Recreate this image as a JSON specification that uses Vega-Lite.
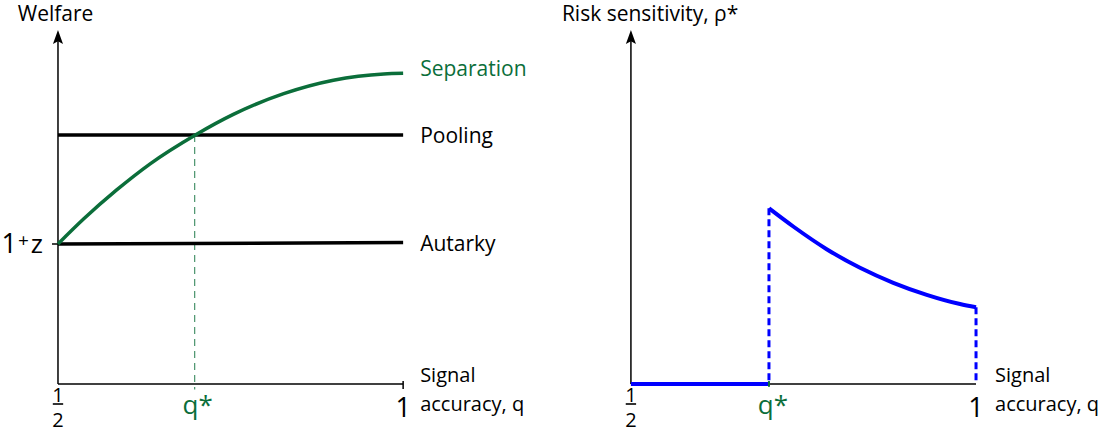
{
  "$schema": "https://vega.github.io/schema/vega-lite/v6.json",
  "padding": 0,
  "spacing": 0,
  "background": "white",
  "config": {"view": {"stroke": null}, "text": {"font": "Open Sans"}},
  "datasets": {
    "welfare": [
      {"series": "Separation", "q": 0.5, "welfare": 1.0},
      {"series": "Separation", "q": 0.537, "welfare": 1.178},
      {"series": "Separation", "q": 0.585, "welfare": 1.386},
      {"series": "Separation", "q": 0.633, "welfare": 1.571},
      {"series": "Separation", "q": 0.699, "welfare": 1.779},
      {"series": "Separation", "q": 0.754, "welfare": 1.926},
      {"series": "Separation", "q": 0.827, "welfare": 2.074},
      {"series": "Separation", "q": 0.899, "welfare": 2.17},
      {"series": "Separation", "q": 0.972, "welfare": 2.215},
      {"series": "Separation", "q": 1.0, "welfare": 2.219},
      {"series": "Pooling", "q": 0.5, "welfare": 1.779},
      {"series": "Pooling", "q": 1.0, "welfare": 1.779},
      {"series": "Autarky", "q": 0.5, "welfare": 1.0},
      {"series": "Autarky", "q": 1.0, "welfare": 1.01}
    ],
    "risk": [
      {"segment": "low", "q": 0.5, "rho": 0.0},
      {"segment": "low", "q": 0.7, "rho": 0.0},
      {"segment": "high", "q": 0.7, "rho": 1.255},
      {"segment": "high", "q": 0.7352, "rho": 1.125},
      {"segment": "high", "q": 0.7836, "rho": 0.963},
      {"segment": "high", "q": 0.8319, "rho": 0.83},
      {"segment": "high", "q": 0.8801, "rho": 0.723},
      {"segment": "high", "q": 0.9286, "rho": 0.637},
      {"segment": "high", "q": 0.9768, "rho": 0.571},
      {"segment": "high", "q": 1.0, "rho": 0.548}
    ],
    "jumps": [
      {"q": 0.7, "top": 1.255},
      {"q": 1.0, "top": 0.548}
    ],
    "qstar": [
      {"panel": "Welfare", "q": 0.698, "top": 1.779},
      {"panel": "Risk", "q": 0.7, "top": 0}
    ]
  },
  "hconcat": [
    {
      "width": 555,
      "height": 432,
      "layer": [
        {
          "data": {"name": "qstar"},
          "transform": [{"filter": "datum.panel === 'Welfare'"}],
          "mark": {"type": "rule", "color": "#0b6e3a", "opacity": 0.75, "strokeWidth": 1.2, "strokeDash": [7, 5]},
          "encoding": {
            "x": {"field": "q", "type": "quantitative", "scale": {"domain": [0.416, 1.22], "nice": false, "zero": false}, "axis": null},
            "y": {"field": "top", "type": "quantitative", "scale": {"domain": [-0.343, 2.743], "nice": false, "zero": false}, "axis": null},
            "y2": {"datum": -0.04}
          }
        },
        {
          "data": {"values": [{}]},
          "mark": {"type": "rule", "color": "black", "strokeWidth": 1.5},
          "encoding": {"x": {"datum": 0.5, "type": "quantitative"}, "y": {"datum": 0, "type": "quantitative"}, "y2": {"datum": 2.45}}
        },
        {
          "data": {"values": [{}]},
          "mark": {"type": "rule", "color": "black", "strokeWidth": 1.5},
          "encoding": {"x": {"datum": 0.5, "type": "quantitative"}, "x2": {"datum": 1.0}, "y": {"datum": 0, "type": "quantitative"}}
        },
        {
          "data": {"values": [{}]},
          "mark": {"type": "rule", "color": "black", "strokeWidth": 1.5},
          "encoding": {"x": {"datum": 1.0, "type": "quantitative"}, "y": {"datum": -0.036, "type": "quantitative"}, "y2": {"datum": 0.021}}
        },
        {
          "data": {"values": [{}]},
          "mark": {"type": "rule", "color": "black", "strokeWidth": 1.5},
          "encoding": {"x": {"datum": 0.4913, "type": "quantitative"}, "x2": {"datum": 0.5}, "y": {"datum": 1.0, "type": "quantitative"}}
        },
        {
          "data": {"values": [{}]},
          "mark": {"type": "point", "shape": "M0,-1L0.72,1L0,0.6L-0.72,1Z", "filled": true, "color": "black", "opacity": 1, "size": 196},
          "encoding": {"x": {"datum": 0.5, "type": "quantitative"}, "y": {"datum": 2.479, "type": "quantitative"}}
        },
        {
          "data": {"name": "welfare"},
          "transform": [{"filter": "datum.series !== 'Separation'"}],
          "mark": {"type": "line", "color": "black", "strokeWidth": 3.5},
          "encoding": {"x": {"field": "q", "type": "quantitative"}, "y": {"field": "welfare", "type": "quantitative"}, "detail": {"field": "series", "type": "nominal"}}
        },
        {
          "data": {"name": "welfare"},
          "transform": [{"filter": "datum.series === 'Separation'"}],
          "mark": {"type": "line", "color": "#0b6e3a", "strokeWidth": 3.5, "interpolate": "monotone"},
          "encoding": {"x": {"field": "q", "type": "quantitative"}, "y": {"field": "welfare", "type": "quantitative"}}
        },
        {
          "data": {"name": "welfare"},
          "transform": [{"filter": "datum.q === 1 && datum.series === 'Separation'"}],
          "mark": {"type": "text", "align": "left", "baseline": "middle", "dx": 17, "dy": -3, "fontSize": 21, "color": "#0b6e3a"},
          "encoding": {
            "x": {"field": "q", "type": "quantitative"},
            "y": {"field": "welfare", "type": "quantitative"},
            "text": {"field": "series", "type": "nominal"}
          }
        },
        {
          "data": {"name": "welfare"},
          "transform": [{"filter": "datum.q === 1 && datum.series !== 'Separation'"}],
          "mark": {"type": "text", "align": "left", "baseline": "middle", "dx": 17, "dy": 2, "fontSize": 21, "color": "black"},
          "encoding": {
            "x": {"field": "q", "type": "quantitative"},
            "y": {"field": "welfare", "type": "quantitative"},
            "text": {"field": "series", "type": "nominal"}
          }
        },
        {
          "data": {"values": [{}]},
          "mark": {"type": "text", "text": "Welfare", "align": "center", "baseline": "alphabetic", "fontSize": 21, "color": "black"},
          "encoding": {"x": {"datum": 0.4965, "type": "quantitative"}, "y": {"datum": 2.59, "type": "quantitative"}}
        },
        {
          "data": {"values": [{}]},
          "mark": {"type": "text", "text": "z", "align": "right", "baseline": "alphabetic", "fontSize": 26, "dx": -15, "dy": 9, "color": "black"},
          "encoding": {"x": {"datum": 0.5, "type": "quantitative"}, "y": {"datum": 1.0, "type": "quantitative"}}
        },
        {
          "data": {"values": [{}]},
          "mark": {"type": "text", "text": "+", "align": "right", "baseline": "alphabetic", "fontSize": 19, "dx": -29, "dy": 3, "color": "black"},
          "encoding": {"x": {"datum": 0.5, "type": "quantitative"}, "y": {"datum": 1.0, "type": "quantitative"}}
        },
        {
          "data": {"values": [{}]},
          "mark": {"type": "text", "text": "1", "align": "right", "baseline": "alphabetic", "fontSize": 27, "dx": -41, "dy": 9, "color": "black"},
          "encoding": {"x": {"datum": 0.5, "type": "quantitative"}, "y": {"datum": 1.0, "type": "quantitative"}}
        },
        {
          "data": {"values": [{}]},
          "mark": {"type": "text", "text": ["1", "2"], "align": "center", "baseline": "alphabetic", "fontSize": 20, "lineHeight": 25, "color": "black"},
          "encoding": {"x": {"datum": 0.5, "type": "quantitative"}, "y": {"datum": -0.1286, "type": "quantitative"}}
        },
        {
          "data": {"values": [{}]},
          "mark": {"type": "rule", "color": "black", "strokeWidth": 1.6},
          "encoding": {"x": {"datum": 0.4925, "type": "quantitative"}, "x2": {"datum": 0.5075}, "y": {"datum": -0.143, "type": "quantitative"}}
        },
        {
          "data": {"name": "qstar"},
          "transform": [{"filter": "datum.panel === 'Welfare'"}],
          "mark": {"type": "text", "text": "q*", "align": "center", "baseline": "alphabetic", "fontSize": 26, "dx": 3, "color": "#0b6e3a"},
          "encoding": {"x": {"field": "q", "type": "quantitative"}, "y": {"datum": -0.214, "type": "quantitative"}}
        },
        {
          "data": {"values": [{}]},
          "mark": {"type": "text", "text": "1", "align": "center", "baseline": "alphabetic", "fontSize": 27, "color": "black"},
          "encoding": {"x": {"datum": 1.0, "type": "quantitative"}, "y": {"datum": -0.236, "type": "quantitative"}}
        },
        {
          "data": {"values": [{}]},
          "mark": {"type": "text", "text": ["Signal", "accuracy, q"], "align": "left", "baseline": "alphabetic", "fontSize": 20, "lineHeight": 29, "dx": 17, "color": "black"},
          "encoding": {"x": {"datum": 1.0, "type": "quantitative"}, "y": {"datum": 0.014, "type": "quantitative"}}
        }
      ]
    },
    {
      "width": 557,
      "height": 432,
      "layer": [
        {
          "data": {"values": [{}]},
          "mark": {"type": "rule", "color": "black", "strokeWidth": 1.5},
          "encoding": {
            "x": {"datum": 0.5, "type": "quantitative", "scale": {"domain": [0.39, 1.197], "nice": false, "zero": false}, "axis": null},
            "y": {"datum": 0, "type": "quantitative", "scale": {"domain": [-0.343, 2.743], "nice": false, "zero": false}, "axis": null},
            "y2": {"datum": 2.45}
          }
        },
        {
          "data": {"values": [{}]},
          "mark": {"type": "rule", "color": "black", "strokeWidth": 1.5},
          "encoding": {"x": {"datum": 0.5, "type": "quantitative"}, "x2": {"datum": 1.0}, "y": {"datum": 0, "type": "quantitative"}}
        },
        {
          "data": {"values": [{}]},
          "mark": {"type": "point", "shape": "M0,-1L0.72,1L0,0.6L-0.72,1Z", "filled": true, "color": "black", "opacity": 1, "size": 196},
          "encoding": {"x": {"datum": 0.5, "type": "quantitative"}, "y": {"datum": 2.479, "type": "quantitative"}}
        },
        {
          "data": {"name": "jumps"},
          "mark": {"type": "rule", "color": "#0000ff", "strokeWidth": 3, "strokeDash": [7, 4]},
          "encoding": {"x": {"field": "q", "type": "quantitative"}, "y": {"field": "top", "type": "quantitative"}, "y2": {"datum": 0}}
        },
        {
          "data": {"name": "risk"},
          "mark": {"type": "line", "color": "#0000ff", "strokeWidth": 4, "interpolate": "monotone"},
          "encoding": {"x": {"field": "q", "type": "quantitative"}, "y": {"field": "rho", "type": "quantitative"}, "detail": {"field": "segment", "type": "nominal"}}
        },
        {
          "data": {"name": "qstar"},
          "transform": [{"filter": "datum.panel === 'Risk'"}],
          "mark": {"type": "rule", "color": "#0b6e3a", "strokeWidth": 2},
          "encoding": {"x": {"field": "q", "type": "quantitative"}, "y": {"datum": -0.02, "type": "quantitative"}, "y2": {"datum": 0.021}}
        },
        {
          "data": {"values": [{}]},
          "mark": {"type": "text", "text": "Risk sensitivity, ρ*", "align": "left", "baseline": "alphabetic", "fontSize": 21, "color": "black"},
          "encoding": {"x": {"datum": 0.4, "type": "quantitative"}, "y": {"datum": 2.59, "type": "quantitative"}}
        },
        {
          "data": {"values": [{}]},
          "mark": {"type": "text", "text": ["1", "2"], "align": "center", "baseline": "alphabetic", "fontSize": 20, "lineHeight": 25, "color": "black"},
          "encoding": {"x": {"datum": 0.5, "type": "quantitative"}, "y": {"datum": -0.1286, "type": "quantitative"}}
        },
        {
          "data": {"values": [{}]},
          "mark": {"type": "rule", "color": "black", "strokeWidth": 1.6},
          "encoding": {"x": {"datum": 0.4925, "type": "quantitative"}, "x2": {"datum": 0.5075}, "y": {"datum": -0.143, "type": "quantitative"}}
        },
        {
          "data": {"name": "qstar"},
          "transform": [{"filter": "datum.panel === 'Risk'"}],
          "mark": {"type": "text", "text": "q*", "align": "center", "baseline": "alphabetic", "fontSize": 26, "dx": 4, "color": "#0b6e3a"},
          "encoding": {"x": {"field": "q", "type": "quantitative"}, "y": {"datum": -0.214, "type": "quantitative"}}
        },
        {
          "data": {"values": [{}]},
          "mark": {"type": "text", "text": "1", "align": "center", "baseline": "alphabetic", "fontSize": 27, "color": "black"},
          "encoding": {"x": {"datum": 1.0, "type": "quantitative"}, "y": {"datum": -0.236, "type": "quantitative"}}
        },
        {
          "data": {"values": [{}]},
          "mark": {"type": "text", "text": ["Signal", "accuracy, q"], "align": "left", "baseline": "alphabetic", "fontSize": 20, "lineHeight": 29, "dx": 19, "color": "black"},
          "encoding": {"x": {"datum": 1.0, "type": "quantitative"}, "y": {"datum": 0.014, "type": "quantitative"}}
        }
      ]
    }
  ]
}
